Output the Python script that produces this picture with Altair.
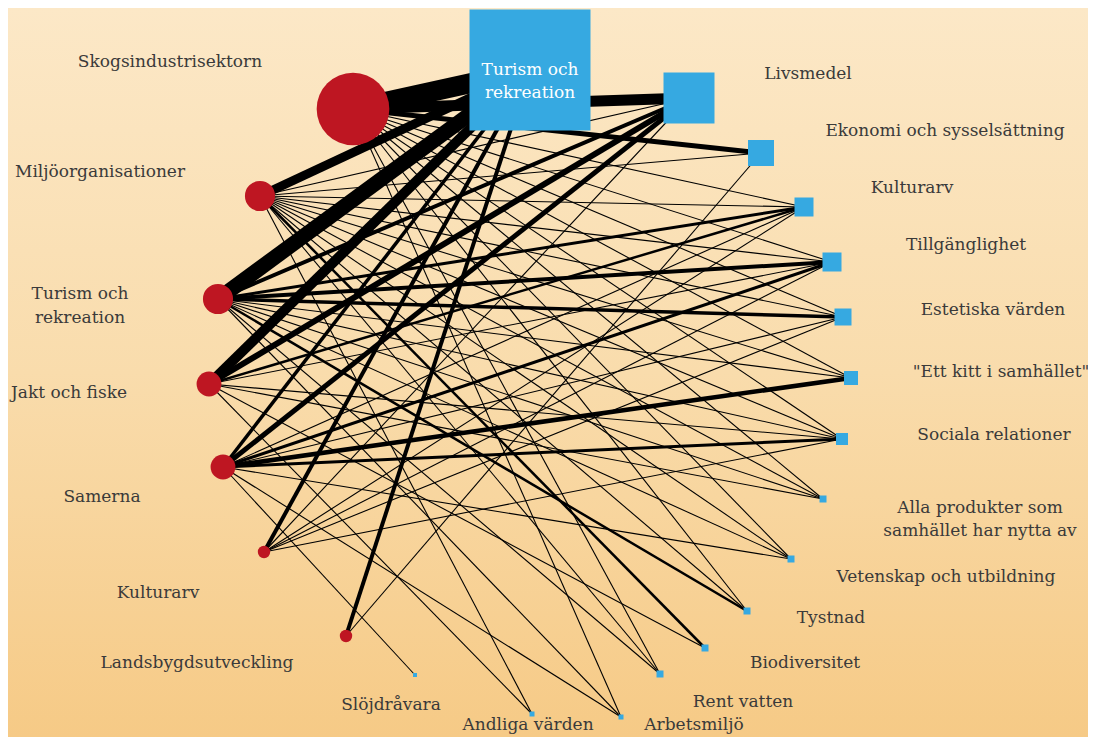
import altair as alt
import pandas as pd
import math

# ---- nodes: stakeholders (red circles) ----
red_names = ["Skogsindustrisektorn", "Miljöorganisationer", "Turism och\nrekreation",
             "Jakt och fiske", "Samerna", "Kulturarv", "Landsbygdsutveckling"]
red_x = [353, 260, 218, 209, 223, 264, 346]
red_y = [109, 196, 299, 384, 467, 552, 636]
red_r = [41, 17, 17, 14, 14, 7, 7]

# ---- nodes: values (blue squares) ----
blue_names = ["Turism och\nrekreation", "Livsmedel", "Ekonomi och sysselsättning", "Kulturarv",
              "Tillgänglighet", "Estetiska värden", "\"Ett kitt i samhället\"", "Sociala relationer",
              "Alla produkter som\nsamhället har nytta av", "Vetenskap och utbildning", "Tystnad",
              "Biodiversitet", "Rent vatten", "Arbetsmiljö", "Andliga värden", "Slöjdråvara"]
blue_x = [530, 689, 761, 804, 832, 843, 851, 842, 823, 791, 747, 705, 660, 621, 532, 415]
blue_y = [70, 98, 153, 207, 262, 317, 378, 439, 499, 559, 611, 648, 674, 717, 714, 675]
blue_side = [121, 51, 26, 19, 19, 17, 14, 12, 7, 7, 7, 7, 7, 5, 5, 4]

# ---- edges (stakeholder index, value index, weight) ----
edge_src = [0]*13 + [1]*14 + [2]*12 + [3]*8 + [4]*10 + [5]*6 + [6]*2
edge_tgt = [0, 1, 2, 3, 4, 5, 6, 7, 8, 9, 10, 12, 13,
            0, 1, 2, 3, 4, 5, 6, 7, 8, 9, 10, 11, 12, 14,
            0, 1, 3, 4, 5, 6, 7, 8, 9, 10, 12, 13,
            0, 1, 3, 4, 7, 8, 11, 14,
            0, 1, 3, 4, 5, 6, 7, 9, 13, 15,
            0, 1, 3, 4, 5, 7,
            0, 2]
edge_w = [20, 11, 5, 1.1, 1.1, 1.1, 1.1, 1.1, 1.1, 1.1, 1.1, 1.1, 1.1,
          9, 1.1, 1.1, 1.1, 1.1, 1.1, 1.1, 1.1, 1.1, 1.1, 1.1, 2.5, 1.1, 1.1,
          15, 4, 3, 4, 3.5, 1.1, 1.1, 1.1, 1.1, 2.5, 1.1, 1.1,
          10, 6, 2.5, 1.1, 1.1, 1.1, 1.1, 1.1,
          3.5, 5, 1.1, 3, 1.1, 4.5, 3, 1.1, 1.1, 1.1,
          4, 1.1, 1.1, 1.1, 1.1, 1.1,
          4, 1.1]

# ---- label layout ----
red_lx = [170, 100, 80, 69, 102, 158, 197]
red_ly = [62, 172, 294, 393, 497, 593, 663]
blue_lx = [530, 808, 945, 912, 966, 993, 1001, 994, 980, 946, 831, 805, 743, 694, 528, 391]
blue_ly = [70, 74, 131, 188, 245, 310, 372, 435, 508, 577, 618, 663, 702, 725, 725, 705]

RED = "#BE1622"
BLUE = "#36A9E1"
FONT = "DejaVu Serif"
TXT = "#3a3a3a"

edges = pd.DataFrame({
    "x": [red_x[s] for s in edge_src],
    "y": [red_y[s] for s in edge_src],
    "x2": [blue_x[t] for t in edge_tgt],
    "y2": [blue_y[t] for t in edge_tgt],
    "w": edge_w,
})
reds = pd.DataFrame({"name": red_names, "x": red_x, "y": red_y,
                     "size": [math.pi * r * r for r in red_r],
                     "lx": red_lx, "ly": red_ly})
blues = pd.DataFrame({"name": blue_names, "x": blue_x, "y": blue_y,
                      "size": [s * s for s in blue_side],
                      "lx": blue_lx, "ly": blue_ly})

W, H = 1080, 729
xs = alt.Scale(domain=[8, 8 + W], nice=False, zero=False)
ys = alt.Scale(domain=[8, 8 + H], nice=False, zero=False, reverse=True)

bg = alt.Chart(pd.DataFrame({"a": [0]})).mark_rect(
    color=alt.Gradient(gradient="linear", x1=0, x2=0, y1=0, y2=1,
                       stops=[alt.GradientStop(offset=0, color="#FCE8C7"),
                              alt.GradientStop(offset=0.5, color="#F9DCAC"),
                              alt.GradientStop(offset=1, color="#F6CA86")])
).encode(x=alt.value(0), x2=alt.value(W), y=alt.value(0), y2=alt.value(H))

rules = alt.Chart(edges).mark_rule(color="black").encode(
    x=alt.X("x:Q", scale=xs, axis=None),
    y=alt.Y("y:Q", scale=ys, axis=None),
    x2="x2:Q", y2="y2:Q",
    strokeWidth=alt.StrokeWidth("w:Q", scale=None),
)

circles = alt.Chart(reds).mark_circle(color=RED, opacity=1).encode(
    x=alt.X("x:Q", scale=xs, axis=None),
    y=alt.Y("y:Q", scale=ys, axis=None),
    size=alt.Size("size:Q", scale=None),
)

squares = alt.Chart(blues).mark_square(color=BLUE, opacity=1).encode(
    x=alt.X("x:Q", scale=xs, axis=None),
    y=alt.Y("y:Q", scale=ys, axis=None),
    size=alt.Size("size:Q", scale=None),
)

red_text = alt.Chart(reds).mark_text(font=FONT, fontSize=17, color=TXT,
                                      lineBreak="\n", lineHeight=24, align="center",
                                      baseline="middle").encode(
    x=alt.X("lx:Q", scale=xs, axis=None),
    y=alt.Y("ly:Q", scale=ys, axis=None),
    text="name:N",
)

blue_text = alt.Chart(blues.iloc[1:]).mark_text(font=FONT, fontSize=17, color=TXT,
                                                lineBreak="\n", lineHeight=23, align="center",
                                                baseline="middle").encode(
    x=alt.X("lx:Q", scale=xs, axis=None),
    y=alt.Y("ly:Q", scale=ys, axis=None),
    text="name:N",
)

inner_text = alt.Chart(blues.iloc[:1]).mark_text(font=FONT, fontSize=17, color="white",
                                                 lineBreak="\n", lineHeight=23, align="center",
                                                 baseline="middle").encode(
    x=alt.X("lx:Q", scale=xs, axis=None),
    y=alt.Y("ly:Q", scale=ys, axis=None),
    text="name:N",
)

chart = alt.layer(bg, rules, circles, squares, red_text, blue_text, inner_text).properties(
    width=W, height=H, padding=0, background="#FCE8C7",
    autosize=alt.AutoSizeParams(type="none")
).configure_view(strokeWidth=0)

chart.save("out.html", embed_options={"renderer": "svg", "actions": False})
